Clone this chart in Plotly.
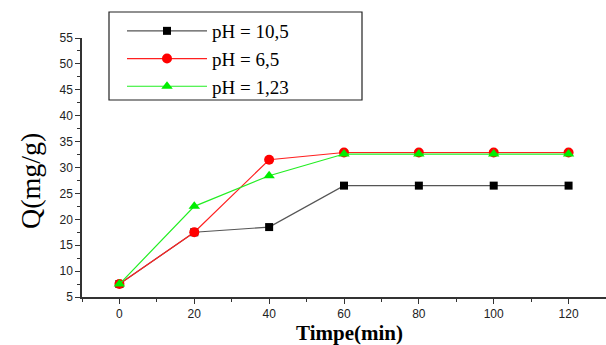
import plotly.graph_objects as go

time_min = [0, 20, 40, 60, 80, 100, 120]
q_ph_10_5 = [7.5, 17.5, 18.5, 26.5, 26.5, 26.5, 26.5]
q_ph_6_5 = [7.5, 17.5, 31.5, 32.9, 32.9, 32.9, 32.9]
q_ph_1_23 = [7.5, 22.5, 28.4, 32.6, 32.6, 32.6, 32.6]
series_names = ["pH = 10,5", "pH = 6,5", "pH = 1,23"]
x_title = "Timpe(min)"
y_title = "Q(mg/g)"

SERIF = "'Liberation Serif', 'Times New Roman', Times, serif"
SANS = "'Liberation Sans', Arial, Helvetica, sans-serif"

fig = go.Figure()
fig.add_trace(go.Scatter(x=time_min, y=q_ph_10_5, name=series_names[0], mode="lines+markers",
                         line=dict(color="#555555", width=1.2),
                         marker=dict(symbol="square", size=8, color="black")))
fig.add_trace(go.Scatter(x=time_min, y=q_ph_6_5, name=series_names[1], mode="lines+markers",
                         line=dict(color="#ff2020", width=1.2),
                         marker=dict(symbol="circle", size=10, color="red")))
fig.add_trace(go.Scatter(x=time_min, y=q_ph_1_23, name=series_names[2], mode="lines+markers",
                         line=dict(color="#22ee22", width=1.2),
                         marker=dict(symbol="triangle-up", size=10, color="#00ee00")))

axis_common = dict(showgrid=False, zeroline=False, showline=True, linecolor="#333333", linewidth=1.5,
                   ticks="outside", ticklen=5, tickwidth=1.2, tickcolor="#333333",
                   tickfont=dict(family=SANS, size=12, color="#222222"))

fig.update_xaxes(range=[-10, 130], tickvals=[0, 20, 40, 60, 80, 100, 120],
                 minor=dict(dtick=10, tick0=0, ticks="outside", ticklen=3, tickcolor="#333333"),
                 **axis_common)
fig.update_yaxes(range=[5, 55], dtick=5, tick0=5,
                 minor=dict(dtick=2.5, tick0=5, ticks="outside", ticklen=3, tickcolor="#333333"),
                 **axis_common)

# axis titles placed as annotations (paper coords)
fig.add_annotation(text=x_title, xref="paper", yref="paper",
                   x=(349 - 82) / 524, y=(297 - 333) / 259, xanchor="center", yanchor="middle",
                   showarrow=False, font=dict(family=SERIF, size=21, color="black", weight="bold"))
fig.add_annotation(text=y_title, xref="paper", yref="paper", textangle=-90,
                   x=(30 - 82) / 524, y=(297 - 181) / 259, xanchor="center", yanchor="middle",
                   showarrow=False, font=dict(family=SERIF, size=28, color="black"))

# legend frame
fig.add_shape(type="rect", xref="paper", yref="paper",
              x0=(109 - 82) / 524, x1=(362 - 82) / 524,
              y0=(297 - 100) / 259, y1=(297 - 12) / 259,
              line=dict(color="#222222", width=1.2), fillcolor="white", layer="above")

fig.update_layout(
    width=606, height=345,
    margin=dict(l=82, r=0, t=38, b=48),
    plot_bgcolor="white", paper_bgcolor="white",
    showlegend=True,
    legend=dict(x=(122 - 82) / 524, y=(297 - 12) / 259, xanchor="left", yanchor="top",
                borderwidth=0, bgcolor="rgba(0,0,0,0)",
                font=dict(family=SERIF, size=19, color="black"),
                itemwidth=80, tracegroupgap=0),
)

fig.write_html("out.html")
